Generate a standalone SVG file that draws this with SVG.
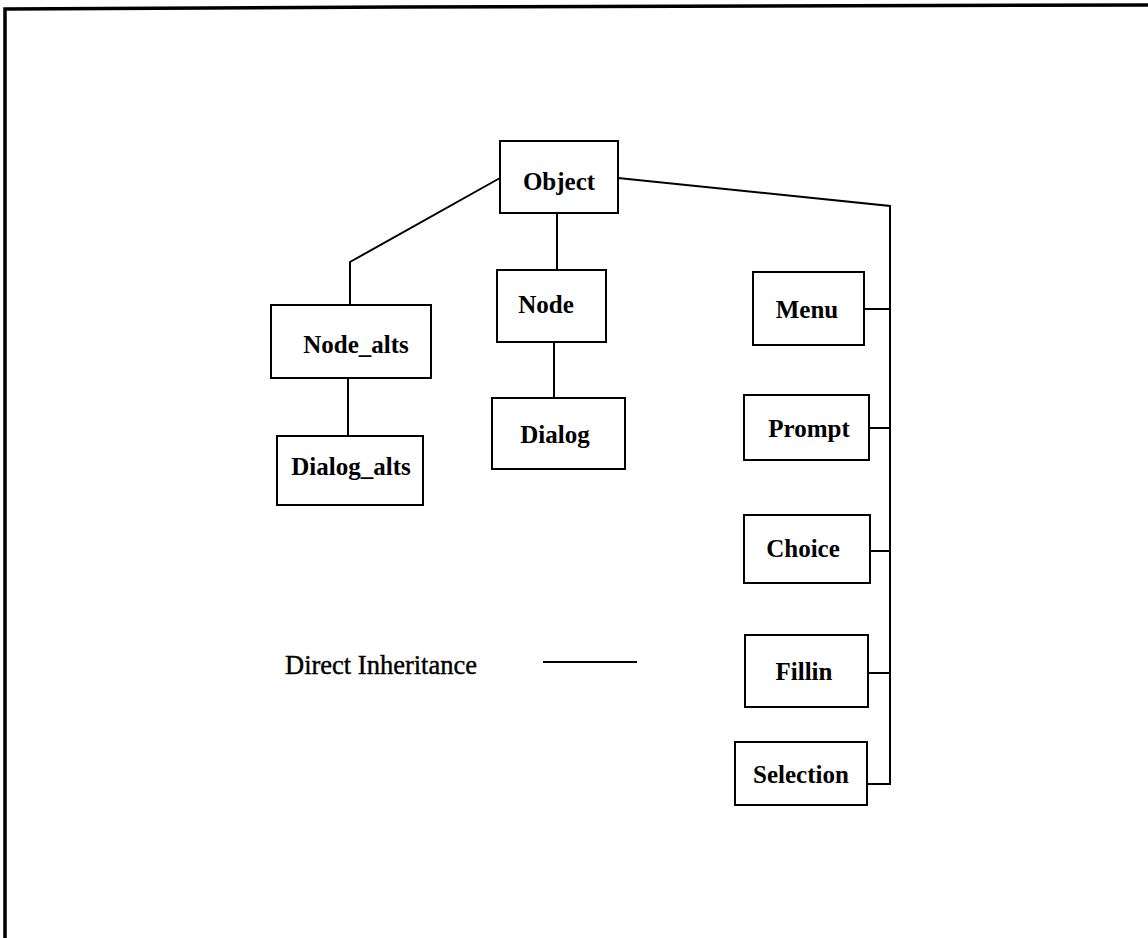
<svg xmlns="http://www.w3.org/2000/svg" width="1148" height="938" viewBox="0 0 1148 938">
  <style>
    .box { fill: #fff; stroke: #000; stroke-width: 2; }
    .lbl { font-family: "Liberation Serif", "Times New Roman", serif; font-size: 25px; font-weight: bold; text-anchor: middle; fill: #000; }
    .legend { font-family: "Liberation Serif", "Times New Roman", serif; font-size: 26.5px; fill: #000; stroke: #000; stroke-width: 0.4; }
    .wire { fill: none; stroke: #000; stroke-width: 2; }
    .frame { fill: none; stroke: #000; stroke-width: 3.5; }
  </style>
  <rect width="1148" height="938" fill="#fff"/>

  <!-- page frame (top and left edges) -->
  <g id="frame">
    <path class="frame" d="M5 938 L5 9 L400 7 L1148 5"/>
  </g>

  <!-- inheritance connectors -->
  <g id="connectors">
    <path class="wire" d="M500 178 L350 262 L350 305"/>
    <path class="wire" d="M348 378 L348 436"/>
    <path class="wire" d="M557 213 L557 270"/>
    <path class="wire" d="M554 342 L554 398"/>
    <path class="wire" d="M618 178 L890 206 L890 784 L867 784"/>
    <path class="wire" d="M864 309 L890 309"/>
    <path class="wire" d="M869 428 L890 428"/>
    <path class="wire" d="M870 551 L890 551"/>
    <path class="wire" d="M868 673 L890 673"/>
  </g>

  <g id="node-object">
    <rect class="box" x="500" y="141" width="118" height="72"/>
    <text class="lbl" x="559" y="190">Object</text>
  </g>
  <g id="node-node-alts">
    <rect class="box" x="271" y="305" width="160" height="73"/>
    <text class="lbl" x="356" y="353">Node_alts</text>
  </g>
  <g id="node-dialog-alts">
    <rect class="box" x="277" y="436" width="146" height="69"/>
    <text class="lbl" x="351" y="475">Dialog_alts</text>
  </g>
  <g id="node-node">
    <rect class="box" x="497" y="270" width="109" height="72"/>
    <text class="lbl" x="546" y="313">Node</text>
  </g>
  <g id="node-dialog">
    <rect class="box" x="492" y="398" width="133" height="71"/>
    <text class="lbl" x="555" y="443">Dialog</text>
  </g>
  <g id="node-menu">
    <rect class="box" x="753" y="272" width="111" height="73"/>
    <text class="lbl" x="807" y="318">Menu</text>
  </g>
  <g id="node-prompt">
    <rect class="box" x="744" y="395" width="125" height="65"/>
    <text class="lbl" x="809" y="437">Prompt</text>
  </g>
  <g id="node-choice">
    <rect class="box" x="744" y="515" width="126" height="68"/>
    <text class="lbl" x="803" y="557">Choice</text>
  </g>
  <g id="node-fillin">
    <rect class="box" x="745" y="635" width="123" height="72"/>
    <text class="lbl" x="804" y="680">Fillin</text>
  </g>
  <g id="node-selection">
    <rect class="box" x="735" y="742" width="132" height="63"/>
    <text class="lbl" x="801" y="783">Selection</text>
  </g>

  <!-- legend -->
  <g id="legend">
    <text class="legend" x="285" y="674">Direct Inheritance</text>
    <line class="wire" x1="543" y1="662" x2="637" y2="662"/>
  </g>
</svg>
